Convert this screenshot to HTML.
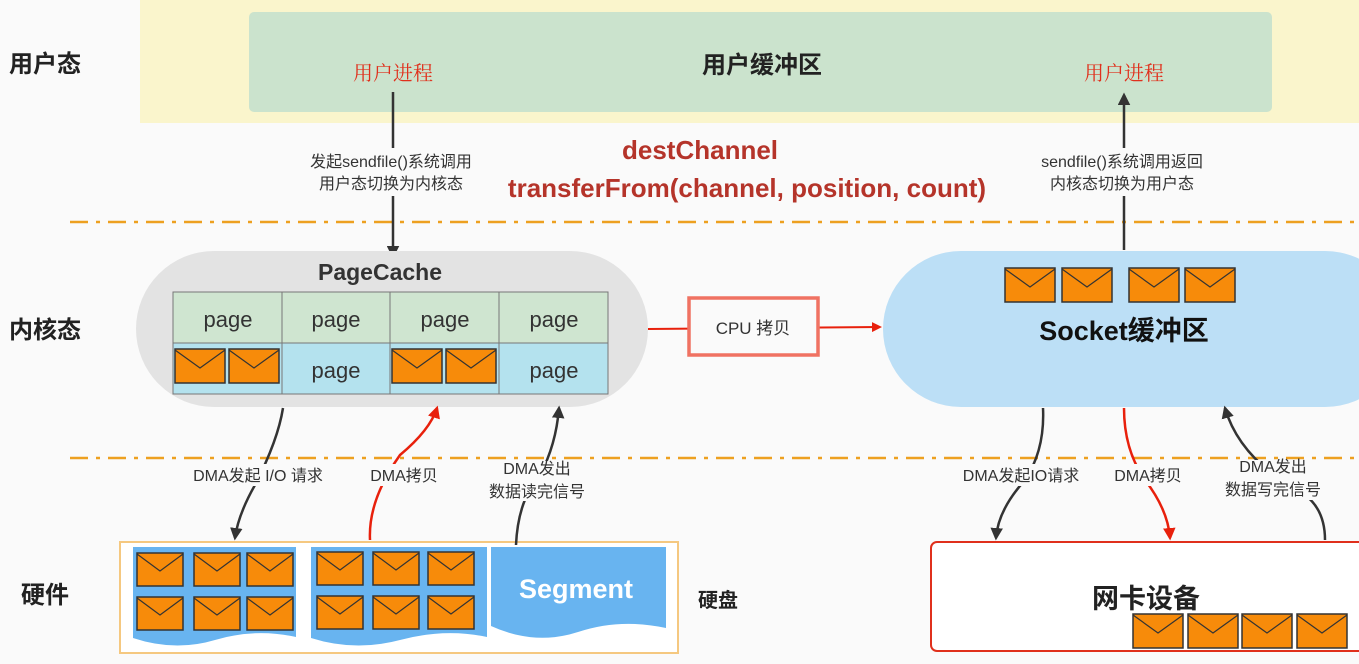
<!DOCTYPE html>
<html><head><meta charset="utf-8"><style>
html,body{margin:0;padding:0;background:#fafafa;}
svg{display:block;}
text{font-family:"Liberation Sans","Noto Sans CJK SC",sans-serif;}
</style></head><body>
<svg width="1359" height="664" viewBox="0 0 1359 664" xmlns="http://www.w3.org/2000/svg">
<defs>
<marker id="ab" viewBox="0 0 10 10" refX="8" refY="5" markerWidth="5" markerHeight="5" orient="auto"><path d="M0,0 L10,5 L0,10 z" fill="#333"/></marker>
<marker id="ar" viewBox="0 0 10 10" refX="8" refY="5" markerWidth="5" markerHeight="5" orient="auto"><path d="M0,0 L10,5 L0,10 z" fill="#e8200c"/></marker>
<g id="env"><rect x="0" y="0" width="50" height="34" fill="#f78b0a" stroke="#333" stroke-width="1.5"/><polyline points="0,1 25,19 50,1" fill="none" stroke="#333" stroke-width="1.2"/></g>
<g id="envs"><rect x="0" y="0" width="46" height="33" fill="#f78b0a" stroke="#333" stroke-width="1.5"/><polyline points="0,1 23,18 46,1" fill="none" stroke="#333" stroke-width="1.2"/></g>
</defs>
<rect width="1359" height="664" fill="#fafafa"/>
<rect x="140" y="0" width="1219" height="123" fill="#faf5cc"/>
<rect x="249" y="12" width="1023" height="100" rx="5" fill="#cbe3cd"/>
<text x="762" y="73" font-size="24" font-weight="bold" fill="#222" text-anchor="middle">用户缓冲区</text>
<text x="393" y="80" font-size="20" fill="#e0301c" text-anchor="middle" style="font-family:'Noto Serif CJK SC',serif">用户进程</text>
<text x="1124" y="80" font-size="20" fill="#e0301c" text-anchor="middle" style="font-family:'Noto Serif CJK SC',serif">用户进程</text>
<text x="45" y="72" font-size="24" font-weight="bold" fill="#222" text-anchor="middle">用户态</text>
<text x="45" y="338" font-size="24" font-weight="bold" fill="#222" text-anchor="middle">内核态</text>
<text x="45" y="603" font-size="24" font-weight="bold" fill="#222" text-anchor="middle">硬件</text>
<line x1="70" y1="222" x2="1359" y2="222" stroke="#eda020" stroke-width="2.5" stroke-dasharray="18,8,4,8"/>
<line x1="70" y1="458" x2="1359" y2="458" stroke="#eda020" stroke-width="2.5" stroke-dasharray="18,8,4,8"/>
<line x1="393" y1="92" x2="393" y2="256" stroke="#333" stroke-width="2.5" marker-end="url(#ab)"/>
<rect x="292" y="148" width="200" height="48" fill="#fafafa"/>
<text x="391" y="167" font-size="16" fill="#333" text-anchor="middle">发起sendfile()系统调用</text>
<text x="391" y="189" font-size="16" fill="#333" text-anchor="middle">用户态切换为内核态</text>
<line x1="1124" y1="250" x2="1124" y2="95" stroke="#333" stroke-width="2.5" marker-end="url(#ab)"/>
<rect x="1024" y="148" width="200" height="48" fill="#fafafa"/>
<text x="1122" y="167" font-size="16" fill="#333" text-anchor="middle">sendfile()系统调用返回</text>
<text x="1122" y="189" font-size="16" fill="#333" text-anchor="middle">内核态切换为用户态</text>
<text x="700" y="159" font-size="26" font-weight="bold" fill="#b5342a" text-anchor="middle">destChannel</text>
<text x="747" y="197" font-size="26" font-weight="bold" fill="#b5342a" text-anchor="middle">transferFrom(channel, position, count)</text>
<rect x="136" y="251" width="512" height="156" rx="78" fill="#e3e3e3"/>
<text x="380" y="280" font-size="23" font-weight="bold" fill="#333" text-anchor="middle">PageCache</text>
<rect x="173" y="292" width="435" height="51" fill="#cfe5d0" stroke="#777"/>
<rect x="173" y="343" width="435" height="51" fill="#b4e2ee" stroke="#777"/>
<line x1="282" y1="292" x2="282" y2="394" stroke="#777"/>
<line x1="390" y1="292" x2="390" y2="394" stroke="#777"/>
<line x1="499" y1="292" x2="499" y2="394" stroke="#777"/>
<g font-size="22" fill="#333" text-anchor="middle">
<text x="228" y="327">page</text><text x="336" y="327">page</text><text x="445" y="327">page</text><text x="554" y="327">page</text>
<text x="336" y="378">page</text><text x="554" y="378">page</text></g>
<use href="#env" x="175" y="349"/>
<use href="#env" x="229" y="349"/>
<use href="#env" x="392" y="349"/>
<use href="#env" x="446" y="349"/>
<line x1="648" y1="329" x2="880" y2="327" stroke="#e8200c" stroke-width="2" marker-end="url(#ar)"/>
<rect x="689" y="298" width="129" height="57" fill="#fafafa" stroke="#f07262" stroke-width="3.5"/>
<text x="753" y="334" font-size="17" fill="#333" text-anchor="middle">CPU 拷贝</text>
<rect x="883" y="251" width="520" height="156" rx="78" fill="#bcdff6"/>
<use href="#env" x="1005" y="268"/><use href="#env" x="1062" y="268"/><use href="#env" x="1129" y="268"/><use href="#env" x="1185" y="268"/>
<text x="1124" y="340" font-size="27" font-weight="bold" fill="#111" text-anchor="middle">Socket缓冲区</text>
<rect x="120" y="542" width="558" height="111" fill="#fff" stroke="#f5c880" stroke-width="2"/>
<path d="M133,547 H296 V637 Q255,628 215,640 Q175,652 133,638 Z" fill="#68b4f0"/>
<path d="M311,547 H487 V637 Q445,628 400,640 Q355,652 311,638 Z" fill="#68b4f0"/>
<path d="M491,547 H666 V628 Q620,618 578,632 Q535,646 491,626 Z" fill="#68b4f0"/>
<text x="576" y="598" font-size="27" font-weight="bold" fill="#fff" text-anchor="middle">Segment</text>
<use href="#envs" x="137" y="553"/><use href="#envs" x="194" y="553"/><use href="#envs" x="247" y="553"/>
<use href="#envs" x="137" y="597"/><use href="#envs" x="194" y="597"/><use href="#envs" x="247" y="597"/>
<use href="#envs" x="317" y="552"/><use href="#envs" x="373" y="552"/><use href="#envs" x="428" y="552"/>
<use href="#envs" x="317" y="596"/><use href="#envs" x="373" y="596"/><use href="#envs" x="428" y="596"/>
<text x="718" y="607" font-size="20" font-weight="bold" fill="#222" text-anchor="middle">硬盘</text>
<rect x="931" y="542" width="440" height="109" rx="6" fill="#fff" stroke="#e0301c" stroke-width="2"/>
<text x="1146" y="608" font-size="27" font-weight="bold" fill="#222" text-anchor="middle">网卡设备</text>
<use href="#env" x="1133" y="614"/><use href="#env" x="1188" y="614"/><use href="#env" x="1242" y="614"/><use href="#env" x="1297" y="614"/>
<path d="M283,408 Q278,440 255,485 Q238,515 235,538" fill="none" stroke="#333" stroke-width="2.5" marker-end="url(#ab)"/>
<path d="M370,540 Q368,500 400,455 Q430,430 437,408" fill="none" stroke="#e8200c" stroke-width="2.5" marker-end="url(#ar)"/>
<path d="M516,545 Q518,500 540,475 Q556,445 559,408" fill="none" stroke="#333" stroke-width="2.5" marker-end="url(#ab)"/>
<path d="M1043,408 Q1045,450 1025,480 Q998,510 996,538" fill="none" stroke="#333" stroke-width="2.5" marker-end="url(#ab)"/>
<path d="M1124,408 Q1124,450 1145,480 Q1168,510 1170,538" fill="none" stroke="#e8200c" stroke-width="2.5" marker-end="url(#ar)"/>
<path d="M1325,540 Q1325,510 1305,495 Q1240,460 1225,408" fill="none" stroke="#333" stroke-width="2.5" marker-end="url(#ab)"/>
<g font-size="16" fill="#333" text-anchor="middle">
<rect x="185" y="464" width="150" height="22" fill="#fafafa"/>
<text x="258" y="481">DMA发起 I/O 请求</text>
<rect x="362" y="464" width="84" height="22" fill="#fafafa"/>
<text x="404" y="481">DMA拷贝</text>
<rect x="482" y="461" width="112" height="40" fill="#fafafa"/>
<text x="537" y="474">DMA发出</text><text x="537" y="497">数据读完信号</text>
<rect x="952" y="464" width="138" height="22" fill="#fafafa"/>
<text x="1021" y="481">DMA发起IO请求</text>
<rect x="1106" y="464" width="84" height="22" fill="#fafafa"/>
<text x="1148" y="481">DMA拷贝</text>
<rect x="1218" y="460" width="112" height="40" fill="#fafafa"/>
<text x="1273" y="472">DMA发出</text><text x="1273" y="495">数据写完信号</text>
</g>
</svg>
</body></html>
